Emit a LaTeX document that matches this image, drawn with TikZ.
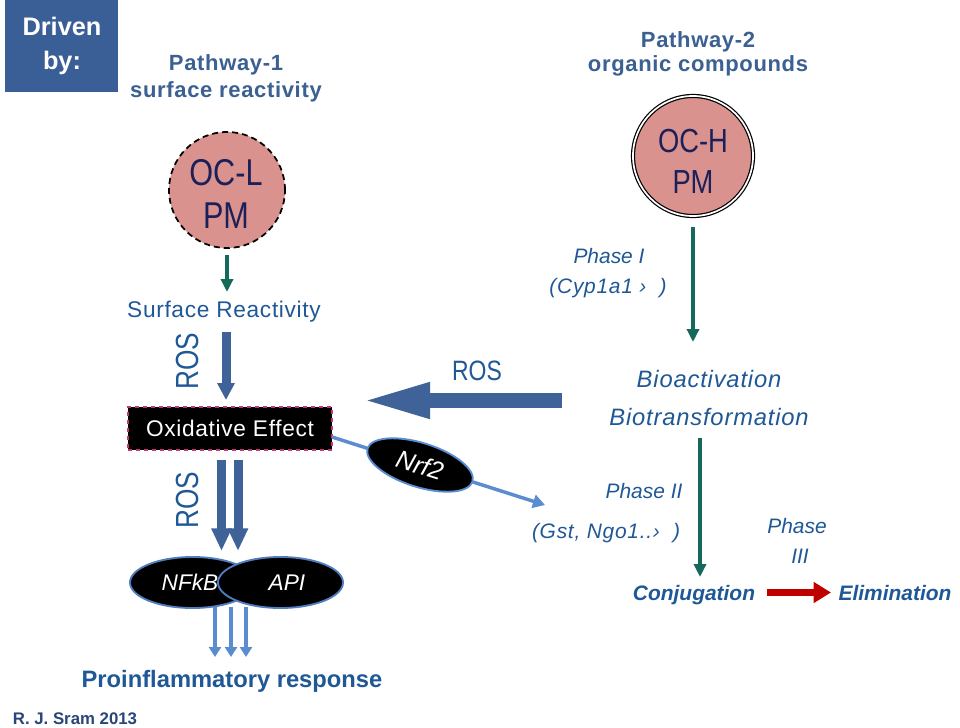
\documentclass[tikz,border=0pt]{standalone}
\usepackage{fontspec}
\setmainfont{Liberation Sans}
\newfontfamily\narrowfont[FakeStretch=0.82]{Liberation Sans}
\newfontfamily\spA[LetterSpace=3]{Liberation Sans}
\newfontfamily\spB[LetterSpace=3]{Liberation Sans}
\newfontfamily\spC[LetterSpace=3.5]{Liberation Sans}
\usetikzlibrary{arrows.meta,shapes.geometric}
\definecolor{boxblue}{RGB}{58,95,150}
\definecolor{pathc}{RGB}{59,96,145}
\definecolor{txtc}{RGB}{31,88,150}
\definecolor{occ}{RGB}{28,32,88}
\definecolor{pinkf}{RGB}{218,146,143}
\definecolor{tealc}{RGB}{20,105,90}
\definecolor{arrblue}{RGB}{63,98,152}
\definecolor{lblue}{RGB}{90,140,210}
\definecolor{ellb}{RGB}{80,125,190}
\definecolor{redc}{RGB}{192,0,0}
\definecolor{magc}{RGB}{200,50,120}
\definecolor{sramc}{RGB}{40,70,120}
\begin{document}
\begin{tikzpicture}[x=0.75pt,y=-0.75pt,
  txt/.style={inner sep=0pt,anchor=base},
  tealarr/.style={draw=tealc,line width=3pt,-{Triangle[width=9pt,length=9.75pt]}},
  lbarr/.style={draw=lblue,line width=3pt,-{Triangle[width=9pt,length=7.5pt]}},
  dblarr/.style={draw=arrblue,line width=6.75pt,-{Triangle[width=14.25pt,length=17pt]}},
  pmcircle/.style={circle,fill=pinkf,inner sep=0pt},
  blackell/.style={ellipse,fill=black,draw=ellb,line width=1.4pt,inner sep=0pt},
]
\useasboundingbox (0,0) rectangle (960,728);
\fill[white] (0,0) rectangle (960,728);

% Driven by box
\node[fill=boxblue,minimum width=84.75pt,minimum height=69pt,inner sep=0pt] (driven) at (61.5,46) {};
\node[txt,text=white,font=\fontsize{19}{19}\selectfont\bfseries] (drv1) at (62,35) {Driven};
\node[txt,text=white,font=\fontsize{19}{19}\selectfont\bfseries] (drv2) at (62,69) {by:};

% Pathway-1
\node[txt,text=pathc,font=\fontsize{16.5}{16.5}\selectfont\spA\bfseries] (p1a) at (226,70) {Pathway-1};
\node[txt,text=pathc,font=\fontsize{16.5}{16.5}\selectfont\spA\bfseries] (p1b) at (226,97) {surface reactivity};

% OC-L PM
\node[pmcircle,draw=black,dash pattern=on 4.5pt off 3pt,line width=1.3pt,minimum size=87pt] (ocl) at (227,190) {};
\node[txt,text=occ,font=\fontsize{28}{28}\selectfont\narrowfont] (ocl1) at (226,185) {OC-L};
\node[txt,text=occ,font=\fontsize{28}{28}\selectfont\narrowfont] (ocl2) at (226,228) {PM};

\coordinate (t1s) at (227,255);
\coordinate (t1e) at (227,292);
\draw[tealarr] (t1s) -- (t1e);

\node[txt,text=txtc,font=\fontsize{17}{17}\selectfont\spB] (sr) at (224,317) {Surface Reactivity};

% ROS vertical labels
\node[txt,text=txtc,rotate=90,font=\fontsize{24}{24}\selectfont\narrowfont] (ros1) at (198,361) {ROS};
\node[txt,text=txtc,rotate=90,font=\fontsize{24}{24}\selectfont\narrowfont] (ros2) at (198,500) {ROS};

% thick arrow to oxidative effect
\coordinate (a1s) at (226,332);
\coordinate (a1e) at (226,400);
\draw[draw=arrblue,line width=6.75pt,-{Triangle[width=12.5pt,length=12.75pt]}] (a1s) -- (a1e);

% Oxidative effect box
\node[fill=black,draw=magc,dashed,line width=1.1pt,minimum width=153pt,minimum height=32.25pt,inner sep=0pt,
      text=white,font=\fontsize{17}{17}\selectfont\spB] (ox) at (230,428.5) {Oxidative Effect};

% double arrows
\coordinate (d1s) at (221.5,460);
\coordinate (d1e) at (221.5,551);
\coordinate (d2s) at (238,460);
\coordinate (d2e) at (238,551);
\draw[dblarr] (d1s) -- (d1e);
\draw[dblarr] (d2s) -- (d2e);

% NFkB / API
\node[blackell,minimum width=93.75pt,minimum height=38.25pt] (nfkb) at (192.5,582.5) {};
\node[txt,text=white,font=\fontsize{17}{17}\selectfont\itshape] (nfkbt) at (190,590) {NFkB};
\node[blackell,minimum width=93.75pt,minimum height=38.25pt] (api) at (280.5,582.5) {};
\node[txt,text=white,font=\fontsize{17}{17}\selectfont\itshape] (apit) at (287,590) {API};

% three light blue arrows
\coordinate (l1s) at (215,607);
\coordinate (l1e) at (215,657);
\coordinate (l2s) at (231,607);
\coordinate (l2e) at (231,657);
\coordinate (l3s) at (246,607);
\coordinate (l3e) at (246,657);
\draw[lbarr] (l1s) -- (l1e);
\draw[lbarr] (l2s) -- (l2e);
\draw[lbarr] (l3s) -- (l3e);

\node[txt,text=txtc,font=\fontsize{17.8}{17.8}\selectfont\bfseries] (pro) at (232,687) {Proinflammatory response};
\node[txt,text=sramc,font=\fontsize{12.6}{12.6}\selectfont\bfseries] (sram) at (75,724) {R. J. Sram 2013};

% Nrf2 connector
\coordinate (nrfs) at (332,437);
\coordinate (nrfe) at (545,505);
\draw[draw=lblue,line width=2.6pt,-{Triangle[width=10pt,length=9pt]}] (nrfs) -- (nrfe);
\node[blackell,rotate=-17.5,minimum width=82.5pt,minimum height=33pt,draw=lblue,
      text=white,font=\fontsize{19}{19}\selectfont\itshape] (nrf2) at (420,465) {Nrf2};

% big ROS arrow
\coordinate (rs) at (562,400.5);
\coordinate (re) at (360,400.5);
\draw[draw=arrblue,line width=11.25pt,-{Triangle[width=24pt,length=52.5pt]}] (rs) -- (re);
\node[txt,text=txtc,font=\fontsize{21}{21}\selectfont\narrowfont] (rosbig) at (477,380) {ROS};

% Pathway-2
\node[txt,text=pathc,font=\fontsize{16.5}{16.5}\selectfont\spA\bfseries] (p2a) at (698,47) {Pathway-2};
\node[txt,text=pathc,font=\fontsize{16.5}{16.5}\selectfont\spA\bfseries] (p2b) at (698,71) {organic compounds};

% OC-H PM
\node[pmcircle,draw=black,double=white,double distance=1.3pt,line width=0.9pt,minimum size=90pt] (och) at (693,156) {};
\node[txt,text=occ,font=\fontsize{25}{25}\selectfont\narrowfont] (och1) at (693,152) {OC-H};
\node[txt,text=occ,font=\fontsize{25}{25}\selectfont\narrowfont] (och2) at (693,193) {PM};

\coordinate (t2s) at (693,227);
\coordinate (t2e) at (693,342);
\draw[tealarr] (t2s) -- (t2e);

\node[txt,text=txtc,font=\fontsize{15.7}{15.7}\selectfont\itshape] (ph1) at (609,263) {Phase I};
\node[txt,text=txtc,font=\fontsize{15.7}{15.7}\selectfont\spC\itshape] (cyp) at (608,293) {(Cyp1a1 ›\ \ )};

\node[txt,text=txtc,font=\fontsize{17.8}{17.8}\selectfont\spC\itshape] (bioa) at (709,387) {Bioactivation};
\node[txt,text=txtc,font=\fontsize{17.8}{17.8}\selectfont\spC\itshape] (biot) at (709,425) {Biotransformation};

\coordinate (t3s) at (700,438);
\coordinate (t3e) at (700,577);
\draw[tealarr] (t3s) -- (t3e);

\node[txt,text=txtc,font=\fontsize{15.7}{15.7}\selectfont\itshape] (ph2) at (644,498) {Phase II};
\node[txt,text=txtc,font=\fontsize{15.7}{15.7}\selectfont\spC\itshape] (gst) at (606,538) {(Gst, Ngo1..›\ \ )};
\node[txt,text=txtc,font=\fontsize{15.7}{15.7}\selectfont\itshape] (ph3a) at (797,533) {Phase};
\node[txt,text=txtc,font=\fontsize{15.7}{15.7}\selectfont\itshape] (ph3b) at (800,563) {III};

\node[txt,text=txtc,font=\fontsize{15.7}{15.7}\selectfont\bfseries\itshape] (conj) at (694,600) {Conjugation};
\node[txt,text=txtc,font=\fontsize{15.7}{15.7}\selectfont\bfseries\itshape] (elim) at (895,600) {Elimination};
\coordinate (rs2) at (767,592.5);
\coordinate (re2) at (831,592.5);
\draw[draw=redc,line width=5.25pt,-{Triangle[width=15pt,length=13pt]}] (rs2) -- (re2);
\end{tikzpicture}
\end{document}
